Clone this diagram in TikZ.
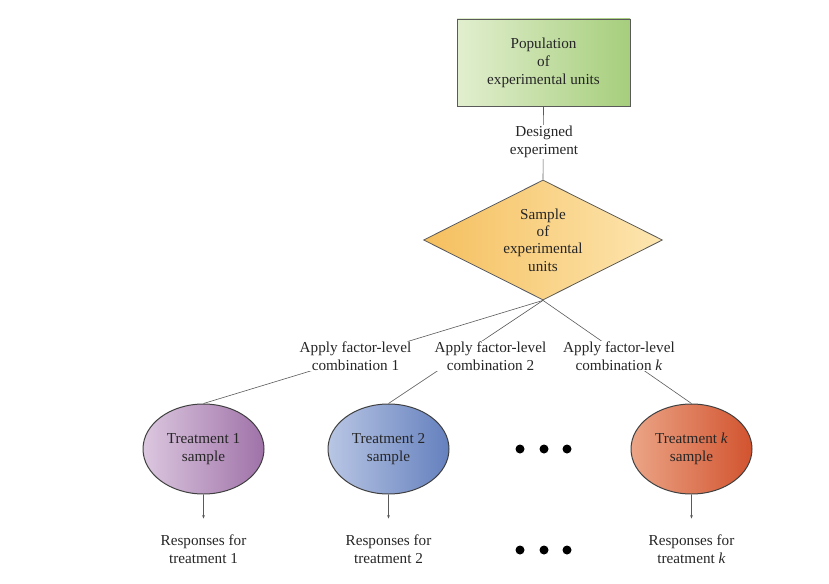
\documentclass[tikz,border=0pt]{standalone}
\usepackage{fontspec}
\setmainfont{Liberation Serif}
\usetikzlibrary{shapes.geometric,arrows.meta,backgrounds}
\definecolor{grlight}{HTML}{E2EFCF}
\definecolor{grdark}{HTML}{A6CE7C}
\definecolor{orlight}{HTML}{FDE6B0}
\definecolor{ordark}{HTML}{F5BF5E}
\definecolor{pulight}{HTML}{DCC7DF}
\definecolor{pudark}{HTML}{9F72A8}
\definecolor{bllight}{HTML}{B9C6E4}
\definecolor{bldark}{HTML}{6480BE}
\definecolor{rdlight}{HTML}{EBA586}
\definecolor{rddark}{HTML}{D2532F}
\definecolor{linegray}{HTML}{5A5A5A}
\tikzset{
  txt/.style={font=\fontsize{15.2}{18}\selectfont, align=center, text=black!85},
  popbox/.style={txt, draw=linegray, line width=0.9pt, minimum width=173pt, minimum height=87pt, inner sep=0pt, left color=grlight, right color=grdark},
  sampdia/.style={txt, font=\fontsize{15.2}{17.4}\selectfont, diamond, aspect=2, draw=linegray, line width=0.8pt, minimum width=239pt, minimum height=120pt, inner sep=0pt, shading angle=60, left color=ordark, right color=orlight},
  treat/.style={txt, ellipse, draw=black!75, line width=1pt, minimum width=121pt, minimum height=90pt, inner sep=0pt},
  lbl/.style={txt, fill=white, inner sep=1pt},
  conn/.style={draw=linegray, line width=0.6pt},
  arr/.style={draw=linegray, line width=0.6pt, -{Stealth[length=3.5pt,width=2.8pt]}},
  blackdot/.style={circle, fill=black, inner sep=0pt, minimum size=9pt}
}
\begin{document}
\begin{tikzpicture}[x=1pt,y=-1pt]
\useasboundingbox (0,0) rectangle (829,583);
\node[popbox] (pop) at (543.5,62.5) {Population\\of\\experimental units};
\node[sampdia] (samp) at (543,240) {Sample\\of\\experimental\\units};
\node[lbl] (des) at (544,142) {Designed\\experiment};
\node[treat, left color=pulight, right color=pudark] (t1) at (203.5,449) {Treatment 1\\sample};
\node[treat, left color=bllight, right color=bldark] (t2) at (388.5,449) {Treatment 2\\sample};
\node[treat, left color=rdlight, right color=rddark] (tk) at (691.5,449) {Treatment \textit{k}\\sample};
\node[lbl] (a1) at (355.5,356) {Apply factor-level\\combination 1};
\node[lbl] (a2) at (490.5,356) {Apply factor-level\\combination 2};
\node[lbl] (ak) at (619,356) {Apply factor-level\\combination \textit{k}};
\node[txt] (r1) at (203.5,549.5) {Responses for\\treatment 1};
\node[txt] (r2) at (388.5,549.5) {Responses for\\treatment 2};
\node[txt] (rk) at (691.5,549.5) {Responses for\\treatment \textit{k}};
\node[blackdot] (d1) at (520,449) {};
\node[blackdot] (d2) at (544,449) {};
\node[blackdot] (d3) at (567,449) {};
\node[blackdot] (e1) at (520,550) {};
\node[blackdot] (e2) at (544,550) {};
\node[blackdot] (e3) at (567,550) {};
\begin{scope}[on background layer]
\draw[conn] (pop.south) -- (samp.north);
\draw[conn] (samp.south) -- (t1.north);
\draw[conn] (samp.south) -- (t2.north);
\draw[conn] (samp.south) -- (tk.north);
\end{scope}
\draw[arr, shorten >=13pt] (t1.south) -- (r1.north);
\draw[arr, shorten >=13pt] (t2.south) -- (r2.north);
\draw[arr, shorten >=13pt] (tk.south) -- (rk.north);
\end{tikzpicture}
\end{document}
